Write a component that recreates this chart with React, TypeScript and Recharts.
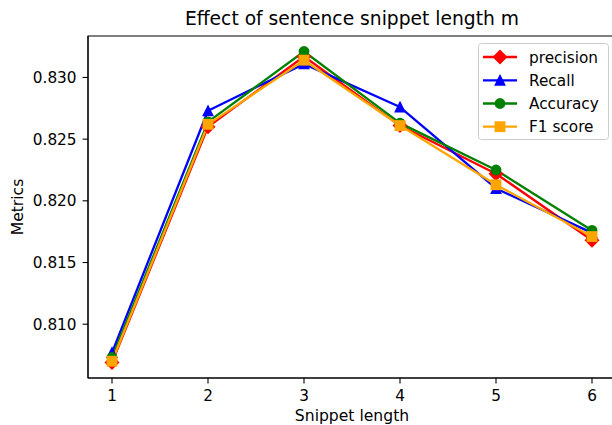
import React from 'react';
import { LineChart, Line, XAxis, YAxis, ReferenceArea, Customized } from 'recharts';

const CATEGORIES = [1, 2, 3, 4, 5, 6];
const PRECISION = [0.8069, 0.826, 0.8317, 0.8261, 0.8222, 0.8168];
const RECALL = [0.8077, 0.8273, 0.8311, 0.8276, 0.821, 0.8174];
const ACCURACY = [0.8073, 0.8264, 0.8321, 0.8263, 0.8225, 0.8176];
const F1 = [0.807, 0.8262, 0.8314, 0.8261, 0.8213, 0.8171];
const X_TICKS = [1, 2, 3, 4, 5, 6];
const Y_TICKS = [0.81, 0.815, 0.82, 0.825, 0.83];
const SERIES_NAMES = ['precision', 'Recall', 'Accuracy', 'F1 score'];
const TITLE = 'Effect of sentence snippet length m';
const X_LABEL = 'Snippet length';
const Y_LABEL = 'Metrics';

const SERIES = [
  { key: 'precision', name: SERIES_NAMES[0], color: '#ff0000', shape: 'diamond' },
  { key: 'recall', name: SERIES_NAMES[1], color: '#0000ff', shape: 'triangle' },
  { key: 'accuracy', name: SERIES_NAMES[2], color: '#008000', shape: 'circle' },
  { key: 'f1', name: SERIES_NAMES[3], color: '#ffa500', shape: 'square' },
];

const data = CATEGORIES.map((c, i) => ({
  x: c,
  precision: PRECISION[i],
  recall: RECALL[i],
  accuracy: ACCURACY[i],
  f1: F1[i],
}));

const all = [...PRECISION, ...RECALL, ...ACCURACY, ...F1];
const dMin = Math.min(...all);
const dMax = Math.max(...all);
const pad = (dMax - dMin) * 0.05;
const Y_MIN = dMin - pad;
const Y_MAX = dMax + pad;
const X_MIN = 0.75;
const X_MAX = 6.25;

const FONT = 'DejaVu Sans, sans-serif';

function Marker({ shape, cx, cy, color }: { shape: string; cx: number; cy: number; color: string }) {
  const s = 4.65;
  const sw = 1.55;
  if (shape === 'diamond') {
    const d = 6.4;
    return <path d={`M${cx},${cy - d}L${cx + d},${cy}L${cx},${cy + d}L${cx - d},${cy}Z`} fill={color} stroke={color} strokeWidth={sw} />;
  }
  if (shape === 'triangle') {
    return <path d={`M${cx},${cy - s}L${cx + s},${cy + s}L${cx - s},${cy + s}Z`} fill={color} stroke={color} strokeWidth={sw} strokeLinejoin="miter" />;
  }
  if (shape === 'circle') {
    return <circle cx={cx} cy={cy} r={s} fill={color} stroke={color} strokeWidth={sw} />;
  }
  return <rect x={cx - s} y={cy - s} width={2 * s} height={2 * s} fill={color} stroke={color} strokeWidth={sw} />;
}

function Overlay() {
  const cxPlot = (88 + 616) / 2;
  const legendY = [57, 80.3, 103.5, 126.7];
  return (
    <g fontFamily={FONT}>
      <text x={cxPlot} y={25} textAnchor="middle" fontSize={18.7} fill="#000">{TITLE}</text>
      <text x={cxPlot} y={420.5} textAnchor="middle" fontSize={15.6} fill="#000">{X_LABEL}</text>
      <text x={0} y={0} transform={`translate(23, 207) rotate(-90)`} textAnchor="middle" fontSize={15.6} fill="#000">{Y_LABEL}</text>
      <rect x={478.5} y={43.5} width={130} height={96} rx={3} fill="#ffffff" fillOpacity={0.8} stroke="#cccccc" strokeWidth={1} />
      {SERIES.map((s, i) => (
        <g key={s.key}>
          <line x1={483} x2={517} y1={legendY[i]} y2={legendY[i]} stroke={s.color} strokeWidth={2.3} />
          <Marker shape={s.shape} cx={500} cy={legendY[i]} color={s.color} />
          <text x={529} y={legendY[i] + 5.5} fontSize={15.3} fill="#000">{s.name}</text>
        </g>
      ))}
    </g>
  );
}

export default function App() {
  return (
    <div style={{ position: 'absolute', left: 0, top: 0, width: 612, height: 425, overflow: 'hidden', background: '#fff' }}>
      <LineChart width={616} height={425} data={data} margin={{ top: 36, right: 0, bottom: 0, left: 0 }}>
        <XAxis
          dataKey="x"
          type="number"
          domain={[X_MIN, X_MAX]}
          ticks={X_TICKS}
          allowDataOverflow
          height={47}
          tickSize={5.4}
          tickMargin={7}
          stroke="#000"
          tick={{ fill: '#000', fontSize: 15.3, fontFamily: FONT }}
          tickLine={{ stroke: '#000', strokeWidth: 1.1 }}
          axisLine={{ stroke: '#000', strokeWidth: 1.1 }}
        />
        <YAxis
          type="number"
          domain={[Y_MIN, Y_MAX]}
          ticks={Y_TICKS}
          allowDataOverflow
          width={88}
          tickSize={5.4}
          tickMargin={6}
          tickFormatter={(v: number) => v.toFixed(3)}
          stroke="#000"
          tick={{ fill: '#000', fontSize: 15.3, fontFamily: FONT }}
          tickLine={{ stroke: '#000', strokeWidth: 1.1 }}
          axisLine={{ stroke: '#000', strokeWidth: 1.1 }}
        />
        {SERIES.map((s) => (
          <Line
            key={s.key}
            dataKey={s.key}
            name={s.name}
            stroke={s.color}
            strokeWidth={2.3}
            strokeLinejoin="round"
            isAnimationActive={false}
            dot={(p: any) => <Marker key={`${s.key}-${p.index}`} shape={s.shape} cx={p.cx} cy={p.cy} color={s.color} />}
            activeDot={false}
          />
        ))}
        <ReferenceArea x1={X_MIN} x2={X_MAX} y1={Y_MIN} y2={Y_MAX} fill="none" fillOpacity={0} stroke="#000" strokeWidth={1.1} ifOverflow="visible" />
        <Customized component={Overlay} />
      </LineChart>
    </div>
  );
}
